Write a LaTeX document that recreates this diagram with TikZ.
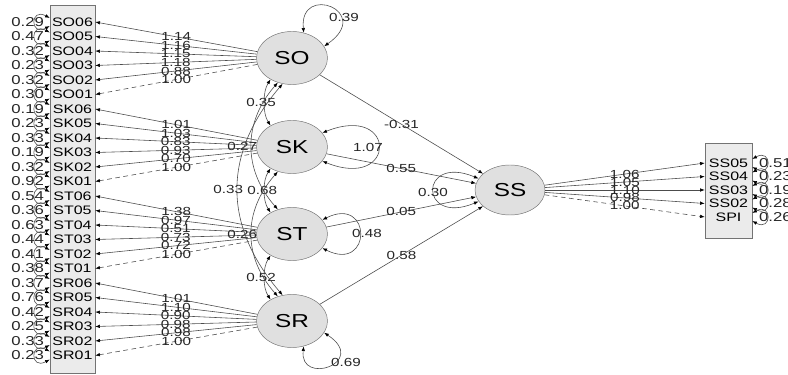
\documentclass[tikz,border=0pt]{standalone}
\usepackage{fontspec}
\newfontfamily\semfont[FakeStretch=1.3]{Liberation Sans}
\usetikzlibrary{positioning, calc, arrows.meta, shapes.geometric}
\tikzset{>={Latex[length=4pt,width=3pt,color=black]}}
\tikzset{latent/.style={ellipse, draw=black!55, fill=black!12, inner sep=0pt, minimum width=2.13cm, minimum height=1.59cm, font=\semfont\fontsize{16}{16}\selectfont}}
\tikzset{mbox/.style={rectangle, draw=black!55, fill=black!8, inner sep=0pt}}
\tikzset{ind/.style={inner sep=0pt, minimum width=1.35cm, font=\semfont\fontsize{10.5}{10.5}\selectfont}}
\tikzset{num/.style={inner sep=0.5pt, font=\semfont\fontsize{10}{10}\selectfont, text=black!85}}
\tikzset{link/.style={draw=black!70, line width=0.5pt, ->}}
\tikzset{twoway/.style={draw=black!70, line width=0.5pt, <->}}
\tikzset{freeload/.style={}, fixload/.style={dash pattern=on 4pt off 3pt}}

\begin{document}
\begin{tikzpicture}[x=0.03cm, y=-0.03cm]
      \useasboundingbox (0,0) rectangle (788,375);

      \node[latent] (SO) at (292,58) {SO};
      \node[latent] (SK) at (292,147) {SK};
      \node[latent] (ST) at (292,234) {ST};
      \node[latent] (SR) at (292,321) {SR};
      \node[latent, minimum width=2.1cm, minimum height=1.5cm] (SS) at (510,190) {SS};

      \node[mbox, minimum width=1.35cm, minimum height=11.04cm] (lbox) at (72.5,189) {};
      \node[mbox, minimum width=1.41cm, minimum height=2.85cm] (rbox) at (728.5,190.5) {};

      % left indicators
      \foreach \lv/\i/\r/\l/\s [count=\k from 0] in {
        SO/06/0.29/1.14/freeload, SO/05/0.47/1.16/freeload, SO/04/0.32/1.15/freeload,
        SO/03/0.23/1.18/freeload, SO/02/0.32/0.88/freeload, SO/01/0.30/1.00/fixload,
        SK/06/0.19/1.01/freeload, SK/05/0.23/1.03/freeload, SK/04/0.33/0.83/freeload,
        SK/03/0.19/0.93/freeload, SK/02/0.32/0.70/freeload, SK/01/0.92/1.00/fixload,
        ST/06/0.54/1.38/freeload, ST/05/0.36/0.97/freeload, ST/04/0.63/0.51/freeload,
        ST/03/0.44/0.73/freeload, ST/02/0.41/0.72/freeload, ST/01/0.38/1.00/fixload,
        SR/06/0.37/1.01/freeload, SR/05/0.76/1.10/freeload, SR/04/0.42/0.90/freeload,
        SR/03/0.25/0.98/freeload, SR/02/0.33/0.98/freeload, SR/01/0.23/1.00/fixload} {
        \node[ind] (\lv\i) at (72.5,{22+14.5*\k}) {\lv\i};
        \draw[link, \s] (\lv) -- node[num] (w\lv\i) {\l} (\lv\i.east);
        \draw[twoway] ($(\lv\i.west)+(0,-4)$) .. controls +(-20,-11) and +(-20,11) .. ($(\lv\i.west)+(0,4)$);
        \node[num, anchor=east, font=\semfont\fontsize{11}{11}\selectfont] (r\lv\i) at ($(\lv\i.west)+(-5,0)$) {\r};
      }

      % right indicators
      \foreach \n/\r/\l/\s [count=\k from 0] in {
        SS05/0.51/1.06/freeload, SS04/0.23/1.05/freeload, SS03/0.19/1.10/freeload,
        SS02/0.28/0.98/freeload, SPI/0.26/1.00/fixload} {
        \node[ind, minimum width=1.41cm] (\n) at (728.5,{163+13.5*\k}) {\n};
        \draw[link, \s] (SS) -- node[num] (w\n) {\l} (\n.west);
        \draw[twoway] ($(\n.east)+(0,-4)$) .. controls +(20,-11) and +(20,11) .. ($(\n.east)+(0,4)$);
        \node[num, anchor=west, font=\semfont\fontsize{11}{11}\selectfont] (r\n) at ($(\n.east)+(6,0)$) {\r};
      }

      % structural paths
      \draw[link] (SO) -- node[num] (bSO) {-0.31} (SS);
      \draw[link] (SK) -- node[num] (bSK) {0.55} (SS);
      \draw[link] (ST) -- node[num] (bST) {0.05} (SS);
      \draw[link] (SR) -- node[num] (bSR) {0.58} (SS);

      % latent variances
      \draw[twoway] (SO.65) .. controls +(-5,-50) and +(50,-35) .. (SO.20);
      \node[num] (vSO) at (344,17) {0.39};
      \draw[twoway] (SK.25) .. controls +(75,-30) and +(75,30) .. (SK.-25);
      \node[num] (vSK) at (368,147) {1.07};
      \draw[twoway] (ST.25) .. controls +(50,-25) and +(50,25) .. (ST.-25);
      \node[num] (vST) at (367,233) {0.48};
      \draw[twoway] (SR.-20) .. controls +(45,30) and +(-5,40) .. (SR.-65);
      \node[num] (vSR) at (346,362) {0.69};
      \draw[twoway] (SS.160) .. controls +(-60,-25) and +(-60,25) .. (SS.200);
      \node[num] (vSS) at (433,192) {0.30};

      % latent covariances
      \draw[twoway] (SO.225) .. controls +(-8,12) and +(-8,-12) .. node[num, xshift=-3pt] (cOK) {0.35} (SK.135);
      \draw[twoway] (SK.225) .. controls +(-8,12) and +(-8,-12) .. node[num, xshift=-2pt] (cKT) {0.68} (ST.135);
      \draw[twoway] (ST.225) .. controls +(-8,12) and +(-8,-12) .. node[num, xshift=-3pt] (cTR) {0.52} (SR.135);
      \draw[twoway] (SO.240) .. controls +(-35,40) and +(-35,-40) .. node[num, xshift=-8pt] (cOT) {0.27} (ST.120);
      \draw[twoway] (SK.240) .. controls +(-35,40) and +(-35,-40) .. node[num, xshift=-8pt] (cKR) {0.26} (SR.120);
      \draw[twoway] (SO.250) .. controls +(-60,70) and +(-60,-70) .. node[num, xshift=-8pt] (cOR) {0.33} (SR.110);
\end{tikzpicture}
\end{document}
